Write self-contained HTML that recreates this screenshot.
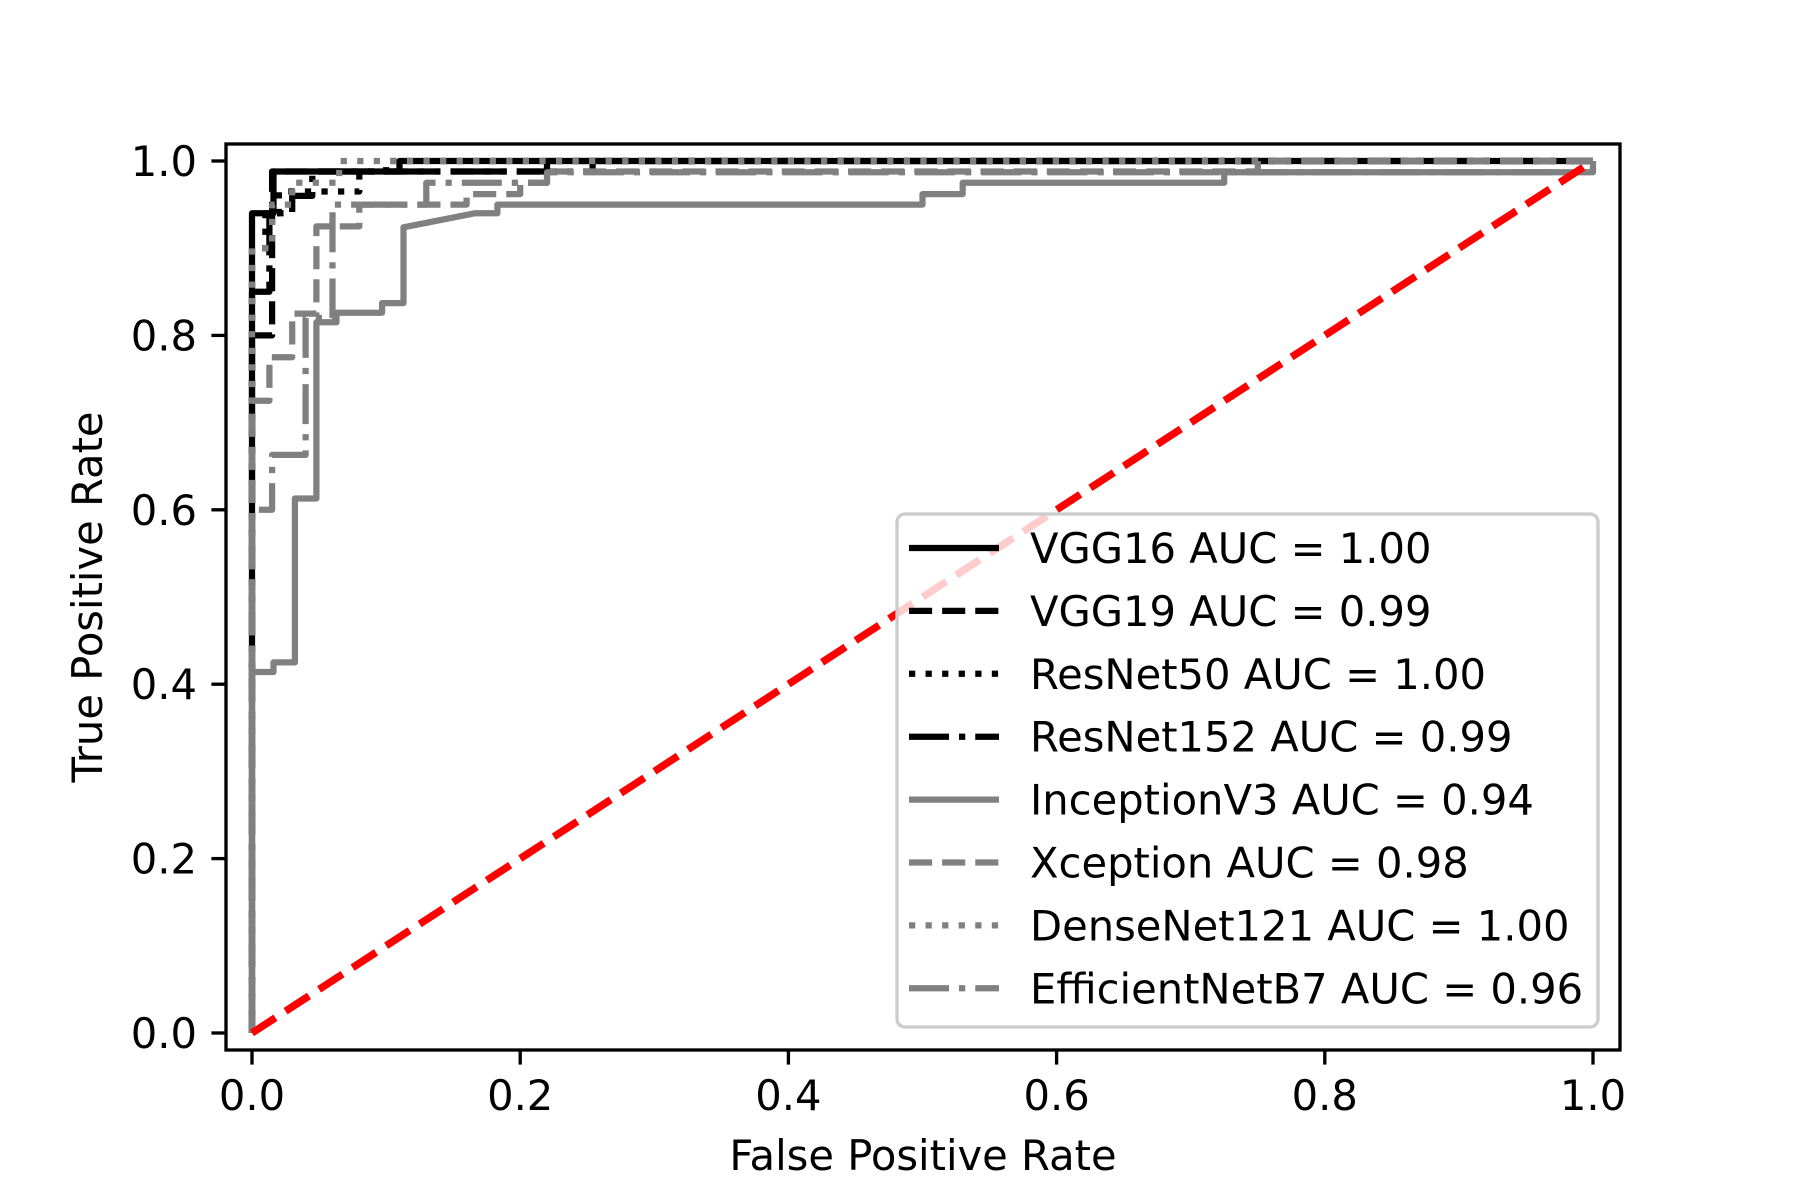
<!DOCTYPE html>
<html><head><meta charset="utf-8"><style>
html,body{margin:0;padding:0;background:#fff}
svg{display:block}
text{font-family:"DejaVu Sans","Liberation Sans",sans-serif;font-size:41.67px;fill:#000}
</style></head><body>
<svg id="chart" width="1800" height="1200" viewBox="0 0 1800 1200" xmlns="http://www.w3.org/2000/svg">
<g id="plot"></g>
</svg>
<script>
const xTicks = [0.0, 0.2, 0.4, 0.6, 0.8, 1.0];
const yTicks = [0.0, 0.2, 0.4, 0.6, 0.8, 1.0];
const tickLabels = ["0.0","0.2","0.4","0.6","0.8","1.0"];
const seriesNames = ["VGG16 AUC = 1.00","VGG19 AUC = 0.99","ResNet50 AUC = 1.00","ResNet152 AUC = 0.99","InceptionV3 AUC = 0.94","Xception AUC = 0.98","DenseNet121 AUC = 1.00","EfficientNetB7 AUC = 0.96"];
const vgg16Fpr = [0,0,0.016,0.016,0.11,0.11,1];
const vgg16Tpr = [0,0.94,0.94,0.988,0.988,1,1];
const vgg19Fpr = [0,0,0.015,0.015,0.22,0.22,1];
const vgg19Tpr = [0,0.8,0.8,0.988,0.988,1,1];
const res50Fpr = [0,0,0.01,0.01,0.02,0.02,0.08,0.08,0.1,0.1,1];
const res50Tpr = [0,0.9,0.9,0.94,0.94,0.965,0.965,0.988,0.988,1,1];
const res152Fpr = [0,0,0.013,0.013,0.03,0.03,0.045,0.045,0.254,0.254,1];
const res152Tpr = [0,0.85,0.85,0.94,0.94,0.96,0.96,0.988,0.988,1,1];
const incFpr = [0,0,0.016,0.016,0.032,0.032,0.048,0.048,0.063,0.063,0.097,0.097,0.113,0.113,0.166,0.183,0.183,0.5,0.5,0.53,0.53,0.725,0.725,1,1];
const incTpr = [0,0.414,0.414,0.425,0.425,0.613,0.613,0.815,0.815,0.826,0.826,0.837,0.837,0.924,0.94,0.94,0.95,0.95,0.962,0.962,0.975,0.975,0.987,0.987,1];
const xcepFpr = [0,0,0.013,0.013,0.03,0.03,0.048,0.048,0.08,0.08,0.16,0.16,0.2,0.2,0.22,0.22,0.75,0.75,1];
const xcepTpr = [0,0.725,0.725,0.775,0.775,0.825,0.825,0.925,0.925,0.95,0.95,0.962,0.962,0.975,0.975,0.988,0.988,1,1];
const denseFpr = [0,0,0.015,0.015,0.03,0.03,0.065,0.065,1];
const denseTpr = [0,0.9,0.9,0.95,0.95,0.975,0.975,1,1];
const effFpr = [0,0,0.015,0.015,0.04,0.04,0.06,0.06,0.13,0.13,0.22,0.22,0.97,0.97,1];
const effTpr = [0,0.6,0.6,0.663,0.663,0.82,0.82,0.95,0.95,0.975,0.975,0.987,0.987,1,1];
const chanceFpr = [0,1];
const chanceTpr = [0,1];

const NS="http://www.w3.org/2000/svg";
const L=226,R=1620,T=144,B=1050;
function xs(v){return 252+1341*v;}
function ys(v){return 1033-872*v;}
const plot=document.getElementById('plot');
function el(tag,attrs,parent){const e=document.createElementNS(NS,tag);for(const k in attrs)e.setAttribute(k,attrs[k]);(parent||plot).appendChild(e);return e;}
const lw=6.25;
const dashed=(3.7*lw)+","+(1.6*lw), dotted=(1*lw)+","+(1.65*lw), dashdot=(6.4*lw)+","+(1.6*lw)+","+(1*lw)+","+(1.6*lw);
const styles=[["#000",""],["#000",dashed],["#000",dotted],["#000",dashdot],["#808080",""],["#808080",dashed],["#808080",dotted],["#808080",dashdot]];
const fprs=[vgg16Fpr,vgg19Fpr,res50Fpr,res152Fpr,incFpr,xcepFpr,denseFpr,effFpr];
const tprs=[vgg16Tpr,vgg19Tpr,res50Tpr,res152Tpr,incTpr,xcepTpr,denseTpr,effTpr];
const keys=["vgg16","vgg19","resnet50","resnet152","inceptionv3","xception","densenet121","efficientnetb7"];
const clip=el('clipPath',{id:'clip'});el('rect',{x:L,y:T,width:R-L,height:B-T},clip);
for(let s=0;s<8;s++){
  const pts=fprs[s].map((f,i)=>xs(f).toFixed(1)+","+ys(tprs[s][i]).toFixed(1)).join(" ");
  const p=el('polyline',{points:pts,fill:'none',stroke:styles[s][0],'stroke-width':lw,'stroke-dasharray':styles[s][1]||'none','stroke-linejoin':'round','clip-path':'url(#clip)'});
  
  
}
const ch=el('polyline',{points:chanceFpr.map((f,i)=>xs(f)+","+ys(chanceTpr[i])).join(" "),fill:'none',stroke:'#ff0000','stroke-width':7.5,'stroke-dasharray':'28,12'});


// frame
const fr=el('rect',{x:L,y:T,width:R-L,height:B-T,fill:'none',stroke:'#000','stroke-width':3.33});


xTicks.forEach((v,i)=>{
  const t=el('line',{x1:xs(v),x2:xs(v),y1:B,y2:B+14.6,stroke:'#000','stroke-width':3.33});
  
  
  const tx=el('text',{x:xs(v),y:B+14.6+14.6+31,'text-anchor':'middle'});tx.textContent=tickLabels[i];
  
  
});
yTicks.forEach((v,i)=>{
  const t=el('line',{x1:L-14.6,x2:L,y1:ys(v),y2:ys(v),stroke:'#000','stroke-width':3.33});
  
  
  const tx=el('text',{x:L-29,y:ys(v)+15,'text-anchor':'end'});tx.textContent=tickLabels[i];
  
  
});
const xt=el('text',{x:923,y:1170,'text-anchor':'middle'});xt.textContent="False Positive Rate";


const yt=el('text',{x:0,y:0,'text-anchor':'middle',transform:'translate(102,597) rotate(-90)'});yt.textContent="True Positive Rate";


// legend
const lg=el('g',{});


el('rect',{x:897,y:514,width:701,height:513,rx:8,fill:'#fff','fill-opacity':0.8,stroke:'#cccccc','stroke-width':3.33},lg);
for(let s=0;s<8;s++){
  const yy=548+s*62.9;
  const ln=el('line',{x1:909,x2:999,y1:yy,y2:yy,stroke:styles[s][0],'stroke-width':lw,'stroke-dasharray':styles[s][1]||'none'},lg);
  
  
  const tx=el('text',{x:1030,y:yy+15},lg);tx.textContent=seriesNames[s];
  
  
}
</script>
</body></html>
